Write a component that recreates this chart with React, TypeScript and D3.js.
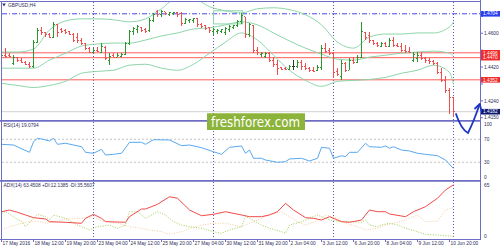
import React from "react";
import * as d3 from "d3";

// ---------- DATA ----------
const opens = [
  1.4457, 1.4483, 1.4483, 1.444, 1.4473, 1.4457, 1.4446, 1.4435, 1.4424, 1.4553,
  1.4613, 1.4602, 1.4591, 1.458, 1.4645, 1.4618, 1.4613, 1.4607, 1.4596, 1.4575,
  1.4564, 1.4543, 1.4521, 1.45, 1.451, 1.45, 1.4526, 1.4457, 1.4483, 1.4473,
  1.4478, 1.4489, 1.4543, 1.4607, 1.4618, 1.4629, 1.4618, 1.4613, 1.4666, 1.4715,
  1.4699, 1.4715, 1.4699, 1.4704, 1.4709, 1.4704, 1.465, 1.4666, 1.4666, 1.4677,
  1.4645, 1.4639, 1.4629, 1.4607, 1.4607, 1.4607, 1.4602, 1.4618, 1.4629, 1.4639,
  1.4661, 1.4688, 1.4591, 1.4639, 1.451, 1.4489, 1.4478, 1.4494, 1.4457, 1.4435,
  1.4419, 1.4414, 1.4408, 1.4424, 1.4424, 1.4446, 1.4424, 1.4414, 1.4403, 1.4403,
  1.4419, 1.4521, 1.451, 1.4494, 1.4397, 1.4371, 1.444, 1.4403, 1.4457, 1.4446,
  1.4473, 1.4602, 1.4586, 1.4564, 1.4548, 1.4532, 1.4543, 1.4532, 1.4564, 1.4537,
  1.4532, 1.451, 1.4505, 1.4457, 1.4467, 1.4483, 1.4467, 1.4457, 1.4451, 1.444,
  1.4392, 1.4349, 1.4295, 1.4258,
];
const highs = [
  1.45, 1.4521, 1.4494, 1.4483, 1.4473, 1.4467, 1.4451, 1.4446, 1.4564, 1.4629,
  1.4634, 1.4607, 1.4602, 1.4661, 1.465, 1.4629, 1.4623, 1.4613, 1.4602, 1.4602,
  1.4575, 1.4548, 1.4526, 1.4521, 1.4526, 1.4548, 1.4532, 1.4494, 1.4494, 1.4494,
  1.4494, 1.4553, 1.4618, 1.4634, 1.4645, 1.4634, 1.4629, 1.4682, 1.4709, 1.4726,
  1.4726, 1.4715, 1.4715, 1.4715, 1.4715, 1.4715, 1.4682, 1.4677, 1.4682, 1.4682,
  1.4656, 1.4645, 1.4634, 1.4629, 1.4623, 1.4623, 1.4634, 1.4645, 1.4645, 1.4672,
  1.4709, 1.4688, 1.4656, 1.4645, 1.4526, 1.45, 1.45, 1.45, 1.4473, 1.4457,
  1.4419, 1.4419, 1.443, 1.4457, 1.4457, 1.4457, 1.444, 1.4419, 1.4419, 1.443,
  1.4537, 1.4548, 1.4521, 1.45, 1.4414, 1.4457, 1.4446, 1.4467, 1.4473, 1.4483,
  1.4661, 1.4607, 1.4607, 1.4564, 1.4553, 1.4553, 1.4553, 1.4575, 1.458, 1.4548,
  1.4548, 1.4537, 1.4526, 1.45, 1.45, 1.45, 1.4473, 1.4467, 1.4457, 1.4446,
  1.4414, 1.4371, 1.4306, 1.4263,
];
const lows = [
  1.444, 1.4467, 1.4473, 1.443, 1.4446, 1.444, 1.443, 1.4414, 1.4414, 1.4548,
  1.4591, 1.458, 1.4575, 1.4575, 1.458, 1.4602, 1.4596, 1.4591, 1.4553, 1.4548,
  1.4537, 1.451, 1.4494, 1.4494, 1.45, 1.4494, 1.4457, 1.443, 1.4473, 1.4473,
  1.4473, 1.4483, 1.4537, 1.4591, 1.4602, 1.4607, 1.4602, 1.4607, 1.4661, 1.4688,
  1.4688, 1.4699, 1.4693, 1.4699, 1.4688, 1.4639, 1.465, 1.4656, 1.4656, 1.4634,
  1.4629, 1.4618, 1.4602, 1.4591, 1.4596, 1.4602, 1.4591, 1.4607, 1.4623, 1.4634,
  1.465, 1.4575, 1.458, 1.4494, 1.4483, 1.4473, 1.4467, 1.4446, 1.4419, 1.4376,
  1.4403, 1.4403, 1.4403, 1.4403, 1.4414, 1.4403, 1.4403, 1.4392, 1.4392, 1.4397,
  1.4403, 1.4494, 1.4483, 1.436, 1.4371, 1.4349, 1.4392, 1.4403, 1.4435, 1.444,
  1.4467, 1.4564, 1.4548, 1.4537, 1.4526, 1.4526, 1.4526, 1.4526, 1.4526, 1.4526,
  1.45, 1.4494, 1.4494, 1.4446, 1.4446, 1.4457, 1.444, 1.4435, 1.443, 1.4381,
  1.4338, 1.4284, 1.4171, 1.4155,
];
const closes = [
  1.4483, 1.4478, 1.4478, 1.4473, 1.4457, 1.4446, 1.4435, 1.4424, 1.4553, 1.4613,
  1.4602, 1.4591, 1.458, 1.4645, 1.4602, 1.4607, 1.4602, 1.4596, 1.4564, 1.4559,
  1.4548, 1.4521, 1.45, 1.451, 1.4505, 1.4532, 1.4467, 1.4478, 1.4473, 1.4483,
  1.4489, 1.4543, 1.4607, 1.4623, 1.4634, 1.4613, 1.4607, 1.4666, 1.4699, 1.4699,
  1.4715, 1.4704, 1.4709, 1.4709, 1.4699, 1.465, 1.4672, 1.4672, 1.4677, 1.4645,
  1.4634, 1.4623, 1.4613, 1.4618, 1.4613, 1.4618, 1.4623, 1.4634, 1.4639, 1.4661,
  1.4693, 1.4591, 1.4645, 1.451, 1.45, 1.4494, 1.4494, 1.4457, 1.4435, 1.4414,
  1.4408, 1.4408, 1.4424, 1.4424, 1.4446, 1.4424, 1.4414, 1.4403, 1.4397, 1.4419,
  1.4521, 1.4505, 1.4494, 1.4392, 1.4381, 1.444, 1.4403, 1.4457, 1.4446, 1.4473,
  1.4607, 1.4575, 1.4564, 1.4548, 1.4537, 1.4543, 1.4532, 1.4564, 1.4537, 1.4532,
  1.451, 1.4505, 1.45, 1.4489, 1.4483, 1.4467, 1.4457, 1.4451, 1.444, 1.4392,
  1.4349, 1.4295, 1.4258, 1.4182,
];

// Bollinger bands (sampled at bar indices)
const bbIdx = [0, 4, 8, 12, 16, 20, 24, 28, 32, 36, 40, 44, 48, 52, 56, 60, 64, 68, 72, 76, 80, 84, 88, 92, 96, 100, 104, 108, 112, 113];
const bbUpper = [1.45, 1.45, 1.4516, 1.4618, 1.4666, 1.4677, 1.4677, 1.4672, 1.4661, 1.4677, 1.4731, 1.479, 1.4785, 1.4742, 1.472, 1.4709, 1.4731, 1.4736, 1.4726, 1.4699, 1.4645, 1.4553, 1.4521, 1.458, 1.4596, 1.4596, 1.4602, 1.4602, 1.4634, 1.4661];
const bbMiddle = [1.4414, 1.4414, 1.4414, 1.4457, 1.4494, 1.4532, 1.4543, 1.4548, 1.4548, 1.4564, 1.4586, 1.4602, 1.4623, 1.4629, 1.4645, 1.4661, 1.4645, 1.4602, 1.4559, 1.4521, 1.4489, 1.4462, 1.4457, 1.4473, 1.4483, 1.4494, 1.45, 1.4505, 1.4494, 1.4478];
const bbLower = [1.4333, 1.4322, 1.4311, 1.4322, 1.4344, 1.4387, 1.4397, 1.4403, 1.443, 1.4435, 1.4414, 1.4403, 1.4435, 1.4494, 1.4553, 1.4602, 1.4564, 1.4483, 1.4403, 1.4349, 1.4317, 1.4344, 1.4349, 1.4354, 1.4365, 1.4387, 1.4403, 1.443, 1.4392, 1.4327];

// RSI(14)
const rsiIdx = [0, 3, 7, 8, 9, 10, 12, 13, 14, 16, 20, 21, 23, 25, 26, 28, 30, 32, 35, 36, 38, 42, 45, 47, 50, 53, 55, 57, 60, 61, 62, 63, 65, 66, 69, 71, 72, 75, 77, 79, 80, 82, 83, 85, 86, 87, 89, 91, 92, 95, 96, 97, 98, 100, 102, 104, 106, 109, 111, 113];
const rsiVal = [61.2, 60, 47.3, 65.7, 71.7, 70.4, 67, 71.7, 61.2, 63, 57, 47.3, 45.6, 52.5, 42.6, 43.8, 45.6, 64.7, 64.7, 61.2, 69.2, 68.7, 58.8, 60, 55.3, 48.3, 43.8, 56, 58.3, 45.6, 51.3, 36.9, 36.9, 33.9, 29.9, 31, 35.7, 36.9, 32.2, 36.9, 56, 54.3, 36.9, 41.4, 39.7, 47.3, 47.3, 63, 57, 56, 58.3, 54.3, 57, 51.3, 49.6, 45.6, 43.8, 41.4, 33.9, 19.08];

// ADX(14), +DI, -DI
const adxIdx = [0, 2, 4, 6, 8, 11, 12, 16, 20, 21, 23, 25, 26, 31, 32, 35, 36, 39, 42, 44, 47, 50, 53, 56, 60, 62, 65, 67, 69, 71, 73, 76, 78, 80, 82, 85, 87, 90, 92, 94, 96, 97, 101, 103, 106, 109, 111, 113];
const adxVal = [30.4, 32.5, 29.7, 26.4, 23.1, 21.5, 18.2, 17.4, 16.2, 22.3, 27.2, 22.3, 18.2, 17.4, 24.3, 33.7, 33.7, 39.5, 48.8, 46.9, 32.5, 25.5, 27.2, 30.4, 26.4, 24.3, 24.3, 26.4, 30.4, 40.7, 32.5, 23.1, 22.3, 20.2, 24.3, 18.2, 17.4, 20.2, 32.5, 30.4, 30.4, 27.6, 24.3, 30.4, 36.6, 46.9, 57.1, 63.45];
const pdiIdx = [0, 1, 3, 5, 6, 8, 9, 11, 12, 13, 16, 19, 21, 22, 24, 27, 29, 31, 32, 34, 36, 39, 41, 43, 45, 47, 50, 53, 55, 57, 60, 61, 62, 65, 67, 70, 71, 72, 75, 79, 80, 82, 85, 87, 90, 91, 92, 94, 95, 97, 99, 101, 104, 106, 109, 111, 113];
const pdiVal = [28.5, 30.4, 24.3, 18.2, 12, 22.3, 27.2, 24.3, 20.2, 26.4, 22.3, 14.1, 10.1, 8, 12, 14.1, 10.1, 14.1, 30.4, 30.4, 22.3, 30.4, 26.4, 18.2, 14.1, 12, 10.1, 5.9, 3.9, 8, 12, 24.3, 22.3, 14.1, 10.1, 5.9, 3.9, 14.1, 18.2, 26.4, 24.3, 20.2, 18.2, 18.2, 17.4, 20.2, 14.1, 12, 14.1, 16.2, 14.1, 10.1, 5.9, 2.7, 1.8, 1, 0.5];
const mdiIdx = [0, 2, 5, 7, 9, 11, 14, 16, 20, 23, 25, 27, 30, 32, 35, 37, 40, 42, 45, 47, 50, 53, 56, 60, 62, 65, 67, 70, 71, 74, 76, 79, 81, 84, 86, 89, 91, 94, 96, 99, 101, 104, 106, 109, 111, 113];
const mdiVal = [8, 12, 16.2, 18.2, 19, 16.2, 18.2, 21.5, 22.3, 24.3, 19, 18.2, 15, 12, 10.1, 8, 5.9, 2.7, 5.9, 10.1, 14.1, 16.2, 16.2, 12, 16.2, 22.3, 27.2, 30.4, 27.2, 18.2, 14.1, 19, 26.4, 22.3, 16.2, 12, 8, 10.1, 14.1, 17.4, 20.2, 26.4, 18.2, 19, 32.5, 35.56];

// axes / annotations
const priceTicks = [1.469, 1.46, 1.451, 1.442, 1.433, 1.424, 1.415];
const redLevels = [1.4496, 1.447, 1.4352];
const blueLevel = 1.4704;
const bidPrice = 1.4182;
const boxBars = [53, 60.25];
const boxPrices = [1.472, 1.465];
const separatorBars = [23, 53, 83, 113];
const xTickBars = [0, 8, 16, 24, 32, 40, 48, 56, 64, 72, 80, 88, 96, 104, 112];
const xTickLabels = ["17 May 2016", "18 May 12:00", "19 May 20:00", "23 May 04:00", "24 May 12:00", "25 May 20:00", "27 May 04:00", "30 May 12:00", "31 May 20:00", "2 Jun 04:00", "3 Jun 12:00", "6 Jun 20:00", "8 Jun 04:00", "9 Jun 12:00", "10 Jun 20:00"];
const rsiLevels = [70, 30];
const rsiAxis = [100, 70, 30, 0];
const adxAxis = [65, 0];

const FONT = "'Liberation Sans', Arial, sans-serif";
const FRAME = "#6e6ec6";
const TXT = "#2c2c58";
const FS = 4.8;

export default function App() {
  const xBar = d3.scaleLinear().domain([0, 113]).range([1, 453]);
  const yP = d3.scaleLinear().domain([1.415, 1.46]).range([117.7, 33.3]);
  const yR = d3.scaleLinear().domain([0, 100]).range([179.5, 122]);
  const yA = d3.scaleLinear().domain([0, 65]).range([236.5, 183.5]);
  const right = 480.5;

  const bbPath = (vals: number[]) =>
    d3.line<number>().x((_, k) => xBar(bbIdx[k]) + 0.5).y((v) => yP(v)).curve(d3.curveMonotoneX)(vals) || "";
  const seriesPath = (idx: number[], vals: number[], y: d3.ScaleLinear<number, number>) =>
    d3.line<number>().x((_, k) => xBar(idx[k]) + 0.5).y((v) => y(v))(vals) || "";

  const clamp = (v: number, a: number, b: number) => Math.max(a, Math.min(b, v));

  const marked = [
    { p: blueLevel, c: "#2a3ff0" },
    ...redLevels.map((p) => ({ p, c: "#f22a2a" })),
    { p: bidPrice, c: "#0c1870" },
  ];
  // plain tick labels hidden behind a highlighted price box are not drawn
  const freeTicks = priceTicks.filter((t) => marked.every((m) => Math.abs(yP(t) - yP(m.p)) > 4.5));

  return (
    <svg width={500} height={250} style={{ position: "absolute", left: 0, top: 0, background: "#fff" }} fontFamily={FONT}>
      <defs>
        <clipPath id="cMain"><rect x={2} y={2} width={right - 2} height={117.8} /></clipPath>
        <clipPath id="cRsi"><rect x={2} y={121.7} width={right - 2} height={58.1} /></clipPath>
        <clipPath id="cAdx"><rect x={2} y={181.7} width={right - 2} height={57.6} /></clipPath>
      </defs>
      <rect x={0} y={0} width={500} height={250} fill="#fff" />

      {/* period separators */}
      {separatorBars.map((b) => (
        <line key={b} x1={xBar(b) + 0.5} x2={xBar(b) + 0.5} y1={2} y2={239.5} stroke="#5a5ab8" strokeWidth={1} strokeDasharray="1,2" />
      ))}

      {/* main panel */}
      <g clipPath="url(#cMain)">
        <line x1={2} x2={right} y1={yP(bidPrice)} y2={yP(bidPrice)} stroke="#d0d0d0" strokeWidth={1} />
        {redLevels.map((p) => (
          <line key={p} x1={2} x2={right} y1={yP(p)} y2={yP(p)} stroke="#ff5c5c" strokeWidth={1} />
        ))}
        <line x1={2} x2={right} y1={yP(blueLevel)} y2={yP(blueLevel)} stroke="#4848f0" strokeWidth={1} strokeDasharray="5,2,1,2" />
        {[bbUpper, bbMiddle, bbLower].map((vals, k) => (
          <path key={k} d={bbPath(vals)} fill="none" stroke="#8cd5a8" strokeWidth={1} />
        ))}
        <rect x={xBar(boxBars[0]) + 0.5} y={yP(boxPrices[0])} width={xBar(boxBars[1]) - xBar(boxBars[0])} height={yP(boxPrices[1]) - yP(boxPrices[0])} fill="none" stroke="#8cd5a8" strokeWidth={1} />
        <g shapeRendering="crispEdges">
          {closes.map((c, i) => {
            const o = opens[i];
            const h = Math.max(highs[i], o, c);
            const l = Math.min(lows[i], o, c);
            const col = c > o ? "#2f962f" : c < o ? "#f04e4e" : "#333333";
            const x = xBar(i);
            return (
              <g key={i} fill={col}>
                <rect x={x} y={yP(h)} width={1} height={Math.max(1, yP(l) - yP(h))} />
                <rect x={x - 1} y={yP(o) - 0.5} width={1} height={1} />
                <rect x={x + 1} y={yP(c) - 0.5} width={1} height={1} />
              </g>
            );
          })}
        </g>
      </g>

      {/* RSI panel */}
      <g clipPath="url(#cRsi)">
        {rsiLevels.map((v) => (
          <line key={v} x1={2} x2={right} y1={yR(v)} y2={yR(v)} stroke="#c4c4c4" strokeWidth={1} strokeDasharray="2,2" />
        ))}
        <path d={seriesPath(rsiIdx, rsiVal, yR)} fill="none" stroke="#58a8f0" strokeWidth={1} />
      </g>

      {/* ADX panel */}
      <g clipPath="url(#cAdx)">
        <path d={seriesPath(mdiIdx, mdiVal, yA)} fill="none" stroke="#f4cba2" strokeWidth={1} strokeDasharray="1,1.5" />
        <path d={seriesPath(pdiIdx, pdiVal, yA)} fill="none" stroke="#a2cf52" strokeWidth={1} strokeDasharray="1,1.5" />
        <path d={seriesPath(adxIdx, adxVal, yA)} fill="none" stroke="#f04a4a" strokeWidth={1} />
      </g>

      {/* frame */}
      <line x1={0} x2={right} y1={1.5} y2={1.5} stroke={FRAME} strokeWidth={1} />
      <line x1={1.5} x2={1.5} y1={1} y2={240} stroke={FRAME} strokeWidth={1} />
      <line x1={right} x2={right} y1={0} y2={240} stroke={FRAME} strokeWidth={1} />
      <line x1={0} x2={right} y1={120.8} y2={120.8} stroke={FRAME} strokeWidth={1.8} />
      <line x1={0} x2={right} y1={180.8} y2={180.8} stroke={FRAME} strokeWidth={1.8} />
      <line x1={0} x2={right} y1={239.5} y2={239.5} stroke={FRAME} strokeWidth={1} />

      {/* titles */}
      <path d="M2.2,3.6 L5.8,3.6 L4,6.4 Z" fill="#30307a" />
      <text x={8} y={6.8} fontSize={FS} fill={TXT}>GBPUSD,H4</text>
      <text x={3.5} y={127.2} fontSize={FS} fill={TXT}>RSI(14) 19.0794</text>
      <text x={3.5} y={187.2} fontSize={FS} fill={TXT}>ADX(14) 63.4508 +DI:12.1385 -DI:35.5607</text>

      {/* price axis */}
      {priceTicks.map((p) => (
        <line key={"t" + p} x1={right} x2={right + 2.5} y1={yP(p)} y2={yP(p)} stroke={FRAME} strokeWidth={1} />
      ))}
      {freeTicks.map((p) => (
        <text key={"l" + p} x={484} y={yP(p) + 1.7} fontSize={FS} fill={TXT}>{p.toFixed(4)}</text>
      ))}
      {marked.map(({ p, c }) => (
        <g key={p}>
          <rect x={right + 0.5} y={yP(p) - 2.8} width={19} height={5.6} fill={c} />
          <text x={483} y={yP(p) + 1.7} fontSize={FS} fill="#fff">{p.toFixed(4)}</text>
        </g>
      ))}

      {/* RSI / ADX axis */}
      {rsiAxis.map((v) => (
        <text key={"r" + v} x={484} y={clamp(yR(v), 124.3, 176.8) + 1.7} fontSize={FS} fill={TXT}>{v}</text>
      ))}
      {adxAxis.map((v) => (
        <text key={"a" + v} x={484} y={clamp(yA(v), 185, 236.2) + 1.7} fontSize={FS} fill={TXT}>{v}</text>
      ))}

      {/* time axis */}
      {xTickBars.map((b, k) => (
        <g key={b}>
          <line x1={xBar(b) + 0.5} x2={xBar(b) + 0.5} y1={239.5} y2={242} stroke={FRAME} strokeWidth={1} />
          <text x={xBar(b) + 1.5} y={245.3} fontSize={FS} fill={TXT}>{xTickLabels[k]}</text>
        </g>
      ))}

      {/* watermark */}
      <rect x={207} y={113.3} width={98} height={16.7} fill="#8cb33a" />
      <text x={211} y={126.5} fontSize={14} fill="#fff" fontFamily="'DejaVu Sans', sans-serif" textLength={89} lengthAdjust="spacingAndGlyphs">freshforex.com</text>

      {/* hand-drawn arrow */}
      <path d="M456,114 Q461,129 468,133 Q474,121 479.5,104.5" fill="none" stroke="#1f35c4" strokeWidth={1.8} strokeLinecap="round" />
      <path d="M475,108.5 L479.8,104 L481.3,110.5" fill="none" stroke="#1f35c4" strokeWidth={1.8} strokeLinecap="round" strokeLinejoin="round" />
    </svg>
  );
}
